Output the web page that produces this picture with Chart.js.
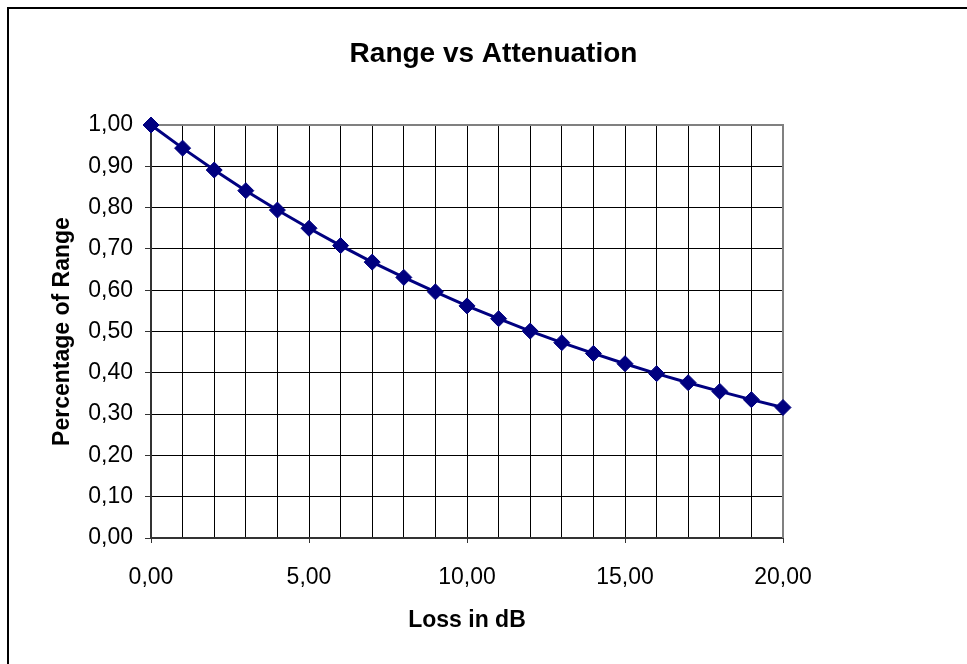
<!DOCTYPE html>
<html>
<head>
<meta charset="utf-8">
<script src="https://cdn.jsdelivr.net/npm/chart.js@4/dist/chart.umd.min.js"></script>
<style>
  body { margin: 0; background: #fff; }
  canvas { display: block; }
</style>
</head>
<body>
<canvas id="rangeChart" width="967" height="664"></canvas>
<script>
// loss in dB (x) and percentage of range (y)
const lossDb = [0, 1, 2, 3, 4, 5, 6, 7, 8, 9, 10, 11, 12, 13, 14, 15, 16, 17, 18, 19, 20];
const rangePct = [1.000, 0.944, 0.891, 0.841, 0.794, 0.750, 0.708, 0.668, 0.631, 0.596, 0.562,
                  0.531, 0.501, 0.473, 0.447, 0.422, 0.398, 0.376, 0.355, 0.335, 0.316];

const chartTitle = 'Range vs Attenuation';
const xTitle = 'Loss in dB';
const yTitle = 'Percentage of Range';

const fmt = v => v.toFixed(2).replace('.', ',');

// outer frame (top + left) and the grey top/right edges of the plot area
const frame = {
    id: 'frame',
    beforeDraw(chart) {
        const ctx = chart.ctx;
        ctx.save();
        ctx.fillStyle = '#fff';
        ctx.fillRect(0, 0, chart.width, chart.height);
        ctx.fillStyle = '#000';
        ctx.fillRect(7, 7, chart.width - 7, 2);
        ctx.fillRect(7, 7, 2, chart.height - 7);
        ctx.restore();
    },
    beforeDatasetsDraw(chart) {
        const a = chart.chartArea;
        const ctx = chart.ctx;
        ctx.save();
        ctx.strokeStyle = '#808080';
        ctx.lineWidth = 2;
        ctx.beginPath();
        ctx.moveTo(a.left, a.top);
        ctx.lineTo(a.right, a.top);
        ctx.lineTo(a.right, a.bottom);
        ctx.stroke();
        ctx.restore();
    }
};

Chart.defaults.color = '#000';
Chart.defaults.font.family = '"Liberation Sans", Arial, sans-serif';

const ctx = document.getElementById('rangeChart').getContext('2d');
const chart = new Chart(ctx, {
    type: 'line',
    data: {
        labels: lossDb,
        datasets: [{
            data: lossDb.map((x, i) => ({ x: x, y: rangePct[i] })),
            borderColor: '#000080',
            backgroundColor: '#000080',
            borderWidth: 3,
            pointStyle: 'rectRot',
            pointRadius: 8,
            pointBorderWidth: 1,
            pointBorderColor: '#000080',
            pointBackgroundColor: '#000080',
            tension: 0,
            fill: false,
            clip: false
        }]
    },
    options: {
        responsive: false,
        devicePixelRatio: 1,
        animation: false,
        layout: { padding: { left: 20, right: 0, top: 0, bottom: 0 } },
        plugins: {
            legend: { display: false },
            tooltip: { enabled: false },
            title: {
                display: true,
                text: chartTitle,
                font: { size: 28, weight: 'bold' },
                padding: { top: 37, bottom: 54.4 }
            }
        },
        scales: {
            x: {
                type: 'linear',
                min: 0,
                max: 20,
                ticks: {
                    stepSize: 1,
                    autoSkip: false,
                    maxRotation: 0,
                    minRotation: 0,
                    padding: 21,
                    font: { size: 23 },
                    callback: v => (v % 5 === 0 ? fmt(v) : '')
                },
                grid: {
                    color: c => (c.tick && c.tick.value === 20 ? 'rgba(0,0,0,0)' : '#000'),
                    lineWidth: 1,
                    tickLength: 5,
                    tickColor: c => (c.tick && c.tick.value % 5 === 0 ? '#333' : 'rgba(0,0,0,0)')
                },
                border: { color: '#333', width: 2 },
                title: {
                    display: true,
                    text: xTitle,
                    font: { size: 23, weight: 'bold' },
                    padding: { top: 0, bottom: 30 }
                },
                afterFit: s => { s.height = 126; }
            },
            y: {
                min: 0,
                max: 1,
                ticks: {
                    stepSize: 0.1,
                    padding: 12,
                    font: { size: 23 },
                    callback: v => fmt(v)
                },
                grid: {
                    color: c => (c.tick && Math.abs(c.tick.value - 1) < 1e-6 ? 'rgba(0,0,0,0)' : '#000'),
                    lineWidth: 1,
                    tickLength: 6,
                    tickColor: '#333'
                },
                border: { color: '#333', width: 2 },
                title: {
                    display: true,
                    text: yTitle,
                    font: { size: 23, weight: 'bold' },
                    padding: { top: 29, bottom: 0 }
                },
                afterFit: s => { s.width = 131; }
            },
            y2: {
                position: 'right',
                min: 0,
                max: 1,
                ticks: { display: false },
                grid: { display: false },
                border: { display: false },
                afterFit: s => { s.width = 184; }
            }
        }
    },
    plugins: [frame]
});
</script>
</body>
</html>
